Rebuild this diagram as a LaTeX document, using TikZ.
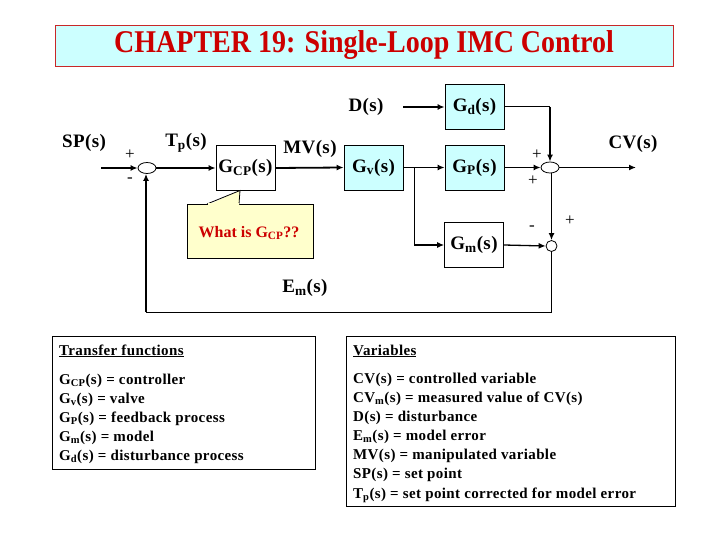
\documentclass[tikz,border=0pt]{standalone}
\usepackage{fontspec}
\setmainfont{Liberation Serif}
\usetikzlibrary{arrows.meta,shapes.geometric}
\definecolor{boxcyan}{RGB}{204,255,255}
\definecolor{titlered}{RGB}{204,0,0}
\definecolor{titleborder}{RGB}{200,40,40}
\definecolor{calloutyellow}{RGB}{255,255,204}
\newcommand{\lblfont}{\fontsize{19}{22}\selectfont\bfseries\addfontfeature{LetterSpace=2}}
\newcommand{\legfont}{\fontsize{15}{18}\selectfont\bfseries\addfontfeature{LetterSpace=2.5}}
\newcommand{\sgnfont}{\fontsize{17}{20}\selectfont}
\tikzset{
  lbl/.style={font=\lblfont, inner sep=0pt},
  blk/.style={draw, line width=0.8pt, minimum width=59pt, minimum height=45pt, inner sep=0pt, font=\lblfont},
  cblk/.style={blk, fill=boxcyan},
  sumnode/.style={draw, ellipse, line width=0.8pt, minimum width=18pt, minimum height=11pt, inner sep=0pt, fill=white},
  sumsmall/.style={draw, circle, line width=0.8pt, minimum size=11pt, inner sep=0pt, fill=white},
  flow/.style={line width=1.8pt, -{Latex[length=7pt,width=6pt]}},
  midflow/.style={line width=1.3pt, -{Latex[length=7pt,width=6pt]}},
  thinline/.style={line width=1pt},
  sgn/.style={font=\sgnfont, inner sep=0pt},
  legtxt/.style={anchor=west, font=\legfont, inner sep=0pt, text height=11pt, text depth=3pt},
  legbox/.style={draw, line width=0.9pt},
}
\begin{document}
\begin{tikzpicture}[x=1pt,y=-1pt]
\useasboundingbox (0,0) rectangle (720,540);
% title
\node[draw=titleborder, line width=0.9pt, fill=boxcyan, minimum width=618pt, minimum height=41pt, inner sep=0pt] (titlebox) at (364,45.5) {};
\node[font=\fontsize{28}{32}\selectfont\bfseries, text=titlered, inner sep=0pt] (title) at (titlebox.center) {\scalebox{1}[1.13]{CHAPTER 19: Single-Loop IMC Control}};

% labels
\node[lbl] (splbl) at (84,143) {SP(s)};
\node[lbl] (tplbl) at (186,143) {T\textsubscript{p}(s)};
\node[lbl] (mvlbl) at (310,149) {MV(s)};
\node[lbl] (dlbl) at (366,107) {D(s)};
\node[lbl] (cvlbl) at (633,144) {CV(s)};
\node[lbl] (emlbl) at (305,288) {E\textsubscript{m}(s)};

% blocks
\node[blk] (gcp) at (245.5,168) {G\textsubscript{CP}(s)};
\node[cblk] (gv) at (373.5,167.5) {G\textsubscript{v}(s)};
\node[cblk] (gd) at (474.5,107) {G\textsubscript{d}(s)};
\node[cblk] (gp) at (474.5,167.5) {G\textsubscript{P}(s)};
\node[blk] (gm) at (474,245) {G\textsubscript{m}(s)};

% summing junctions
\node[sumnode] (s1) at (147,168) {};
\node[sumnode] (s2) at (550,167.5) {};
\node[sumsmall] (s3) at (551.5,246) {};

% signs
\node[sgn] (p1) at (130,155) {+};
\node[sgn] (m1) at (130,180) {-};
\node[sgn] (p2) at (537,155) {+};
\node[sgn] (p3) at (533,181) {+};
\node[sgn] (m3) at (532,228) {-};
\node[sgn] (p4) at (570,221) {+};

% callout
\node[draw, line width=0.8pt, fill=calloutyellow, minimum width=126pt, minimum height=54pt, inner sep=0pt] (callout) at (250,231) {};
\fill[calloutyellow] (208,205) -- (240,190.5) -- (239,205) -- cycle;
\draw[line width=0.8pt] (207,204) -- (240,190.5) -- (239,204);
\fill[calloutyellow] (208,203.5) rectangle (238.5,205.2);
\node[font=\fontsize{16}{19}\selectfont\bfseries, text=titlered, inner sep=0pt] (calltxt) at (249,233) {What is G\textsubscript{CP}??};

% coordinates
\coordinate (spin) at (101,168);
\coordinate (din) at (403,107);
\coordinate (cvout) at (636,167.5);
\coordinate (br) at (414,167.5);
\coordinate (gdcorner) at (550,107);
\coordinate (botr) at (551.5,312);
\coordinate (botl) at (146,312);

% connectors
\draw[flow] (spin) -- (s1.west);
\draw[flow] (s1.east) -- (gcp.west);
\draw[flow] (gcp.east) -- (gv.west);
\draw[flow] (din) -- (gd.west);
\draw[flow] (gv.east) -- (gp.west);
\draw[flow] (gp.east) -- (s2.west);
\draw[flow] (s2.east) -- (cvout);
\draw[thinline] (gd.east) -- (gdcorner);
\draw[flow] (gdcorner) -- (s2.north);
\draw[thinline] (br) -- (br |- gm.west);
\draw[midflow] (br |- gm.west) -- (gm.west);
\draw[midflow] (gm.east) -- (s3.west);
\draw[flow] (s2.south -| s3.north) -- (s3.north);
\draw[thinline] (s3.south) -- (botr) -- (botl);
\draw[flow] (botl) -- (s1.south -| botl);

% legends
\draw[legbox] (52,336) rectangle (315,469);
\draw[legbox] (346,336) rectangle (675,506);
\node[legtxt] (tf) at (59,351) {\underline{Transfer functions}};
\node[legtxt] (tf1) at (59,380) {G\textsubscript{CP}(s) = controller};
\node[legtxt] (tf2) at (59,399) {G\textsubscript{v}(s) = valve};
\node[legtxt] (tf3) at (59,418) {G\textsubscript{P}(s) = feedback process};
\node[legtxt] (tf4) at (59,437) {G\textsubscript{m}(s) = model};
\node[legtxt] (tf5) at (59,456) {G\textsubscript{d}(s) = disturbance process};
\node[legtxt] (vr) at (353,351) {\underline{Variables}};
\node[legtxt] (vr1) at (353,379) {CV(s) = controlled variable};
\node[legtxt] (vr2) at (353,398) {CV\textsubscript{m}(s) = measured value of CV(s)};
\node[legtxt] (vr3) at (353,417) {D(s) = disturbance};
\node[legtxt] (vr4) at (353,436) {E\textsubscript{m}(s) = model error};
\node[legtxt] (vr5) at (353,455) {MV(s) = manipulated variable};
\node[legtxt] (vr6) at (353,474) {SP(s) = set point};
\node[legtxt] (vr7) at (353,494) {T\textsubscript{p}(s) = set point corrected for model error};
\end{tikzpicture}
\end{document}
